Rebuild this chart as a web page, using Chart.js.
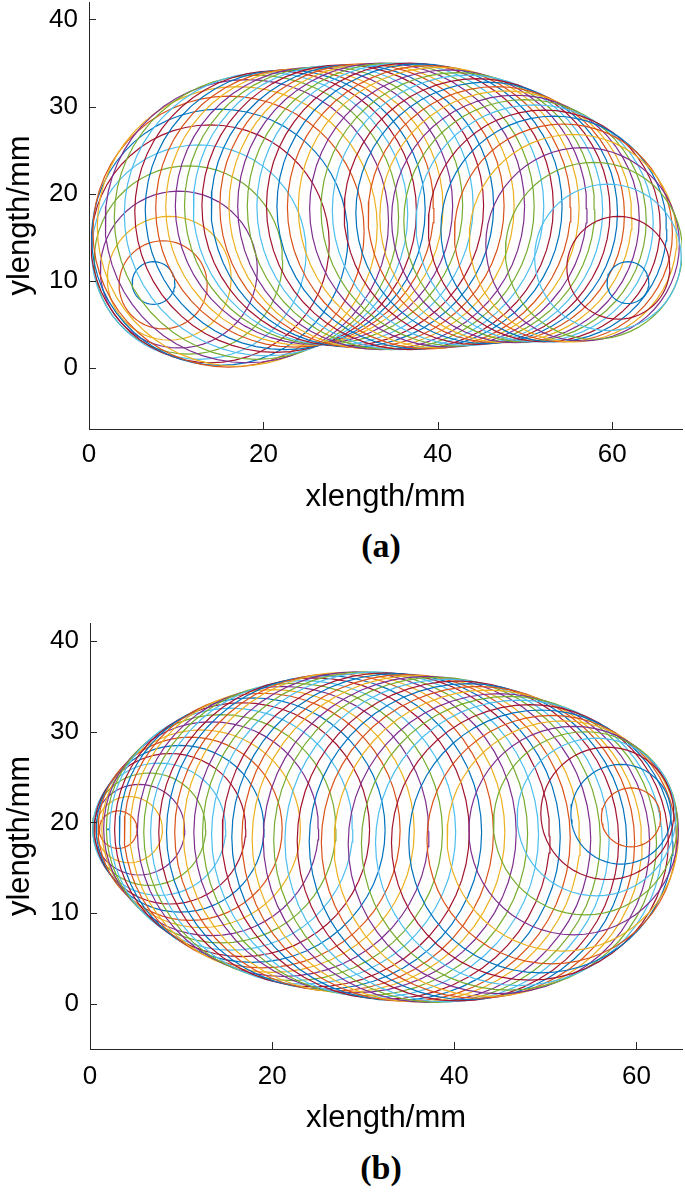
<!DOCTYPE html>
<html>
<head>
<meta charset="utf-8">
<script src="https://cdn.jsdelivr.net/npm/chart.js@4.4.0/dist/chart.umd.min.js"></script>
<style>
  body { margin: 0; background: #fff; width: 685px; height: 1194px; position: relative; overflow: hidden; }
  canvas { position: absolute; left: 0; }
  #chartA { top: 0; }
  #chartB { top: 600px; }
  .tag { position: absolute; left: 381px; transform: translateX(-50%); font: bold 34px "Liberation Serif", "DejaVu Serif", serif; color: #000; line-height: 38px; }
</style>
</head>
<body>
<canvas id="chartA" width="685" height="520"></canvas>
<div class="tag" style="top:527px">(a)</div>
<canvas id="chartB" width="685" height="545"></canvas>
<div class="tag" style="top:1149px">(b)</div>
<script>
// panel (a): circle centres and radii, in mm
const cxA = [7.4, 8.5, 9.2, 10.3, 11.4, 12.6, 13.9, 15.0, 16.0, 17.0,
    18.1, 19.2, 20.3, 21.4, 22.5, 23.6, 24.7, 25.8, 26.9, 28.0,
    29.1, 30.2, 31.3, 32.4, 33.5, 34.6, 35.7, 36.8, 37.9, 39.0,
    40.1, 41.2, 42.3, 43.4, 44.5, 45.6, 46.7, 47.8, 48.9, 50.0,
    51.1, 52.2, 53.3, 54.4, 55.5, 56.6, 57.9, 59.5, 60.7, 61.8];
const cyA = [9.75, 9.55, 10.3, 11.3, 12.4, 13.3, 14.25, 15.0, 15.65, 16.25,
    16.85, 17.3, 17.65, 17.95, 18.15, 18.35, 18.5, 18.6, 18.65, 18.65,
    18.65, 18.6, 18.6, 18.55, 18.55, 18.55, 18.55, 18.55, 18.55, 18.45,
    18.4, 18.3, 18.2, 18.1, 17.95, 17.8, 17.6, 17.35, 17.1, 16.9,
    16.6, 16.3, 15.95, 15.5, 14.9, 14.2, 13.45, 12.7, 11.5, 9.8];
const rA = [2.45, 5.05, 7.1, 9.0, 10.8, 12.3, 13.65, 14.7, 15.55, 16.05,
    16.25, 16.3, 16.25, 16.15, 16.05, 15.95, 15.9, 15.9, 15.95, 16.05,
    16.15, 16.2, 16.3, 16.35, 16.45, 16.45, 16.45, 16.45, 16.35, 16.25,
    16.1, 15.9, 15.7, 15.5, 15.25, 15.0, 14.7, 14.45, 14.2, 13.9,
    13.6, 13.3, 12.95, 12.5, 11.9, 11.1, 10.15, 8.4, 5.9, 2.4];

// panel (b)
const cxB = [2.0, 3.1, 4.3, 5.4, 6.5, 7.6, 8.8, 9.9, 11.0, 12.2,
    13.3, 14.4, 15.5, 16.7, 17.8, 18.9, 20.0, 21.2, 22.3, 23.4,
    24.6, 25.7, 26.8, 27.9, 29.1, 30.2, 31.3, 32.5, 33.6, 34.7,
    35.8, 37.0, 38.1, 39.2, 40.4, 41.5, 42.6, 43.7, 44.9, 46.0,
    47.1, 48.3, 49.5, 50.7, 51.9, 53.1, 54.4, 55.6, 56.8, 58.3, 59.4];
const cyB = [19.25, 19.2, 19.2, 19.2, 19.25, 19.25, 19.3, 19.3, 19.3, 19.3,
    19.3, 19.3, 19.25, 19.2, 19.15, 19.1, 19.05, 19.0, 18.95, 18.9,
    18.9, 18.9, 18.9, 18.9, 18.9, 18.75, 18.65, 18.5, 18.38, 18.28,
    18.2, 18.13, 18.08, 18.0, 17.95, 17.88, 17.8, 17.7, 17.65, 17.7,
    17.75, 17.8, 17.9, 18.1, 18.5, 19.1, 19.9, 20.6, 21.0, 20.9, 20.55];
const rB = [0.05, 2.07, 3.65, 5.0, 6.2, 7.3, 8.3, 9.2, 10.1, 10.9,
    11.8, 12.6, 13.35, 14.0, 14.6, 15.15, 15.6, 16.0, 16.4, 16.75,
    17.05, 17.3, 17.5, 17.65, 17.7, 17.85, 17.95, 18.0, 18.03, 18.03,
    18.0, 17.98, 17.93, 17.8, 17.65, 17.43, 17.2, 16.9, 16.55, 16.2,
    15.75, 15.2, 14.5, 13.7, 12.7, 11.5, 10.1, 8.7, 7.3, 5.5, 3.25];

// axis ticks
const xTicksA = [0, 20, 40, 60];
const xTicksB = [0, 20, 40, 60];
const yTicks = [0, 10, 20, 30, 40];

// matlab default colour order
const colorOrder = ['#0072BD', '#D95319', '#EDB120', '#7E2F8E', '#77AC30', '#4DBEEE', '#A2142F'];
const SEG = 60;
const FONT = '"Liberation Sans", Arial, Helvetica, sans-serif';
const AXIS = '#262626';

function circleSets(cx, cy, r) {
    return cx.map((x0, i) => {
        const pts = [];
        for (let k = 0; k <= SEG; k++) {
            const a = 2 * Math.PI * k / SEG;
            pts.push({ x: x0 + r[i] * Math.cos(a), y: cy[i] + r[i] * Math.sin(a) });
        }
        return {
            data: pts,
            showLine: true,
            borderColor: colorOrder[i % 7],
            borderWidth: 1.2,
            pointRadius: 0,
            fill: false,
            order: -i   // later circles on top, like plot(...) with hold on
        };
    });
}

// matlab style ticks pointing into the axes
const inwardTicks = {
    id: 'inwardTicks',
    afterDraw(chart) {
        const { ctx, chartArea, scales } = chart;
        ctx.save();
        ctx.strokeStyle = AXIS;
        ctx.lineWidth = 1;
        ctx.beginPath();
        scales.x.ticks.forEach(t => {
            const px = Math.round(scales.x.getPixelForValue(t.value)) + 0.5;
            ctx.moveTo(px, chartArea.bottom);
            ctx.lineTo(px, chartArea.bottom - 7);
        });
        scales.y.ticks.forEach(t => {
            const py = Math.round(scales.y.getPixelForValue(t.value)) + 0.5;
            ctx.moveTo(chartArea.left, py);
            ctx.lineTo(chartArea.left + 7, py);
        });
        ctx.stroke();
        ctx.restore();
    }
};

function makeChart(id, sets, cfg) {
    const ctx = document.getElementById(id).getContext('2d');
    return new Chart(ctx, {
        type: 'scatter',
        data: { datasets: sets },
        plugins: [inwardTicks],
        options: {
            responsive: false,
            animation: false,
            layout: { padding: { top: cfg.padTop, right: 3, left: 0, bottom: 0 } },
            plugins: { legend: { display: false }, tooltip: { enabled: false } },
            scales: {
                x: {
                    type: 'linear',
                    min: 0,
                    max: cfg.xMax,
                    afterBuildTicks: s => { s.ticks = cfg.xTicks.map(v => ({ value: v })); },
                    afterFit: s => { s.height = cfg.xHeight; s.paddingLeft = 0; s.paddingRight = 0; },
                    grid: { display: false, drawTicks: false },
                    border: { display: true, color: AXIS, width: 1 },
                    ticks: { padding: cfg.tickPad, color: '#000', maxRotation: 0, font: { size: 26, family: FONT } },
                    title: { display: true, text: 'xlength/mm', color: '#000', font: { size: 31, family: FONT }, padding: { top: 0, bottom: cfg.titlePad } }
                },
                y: {
                    type: 'linear',
                    min: cfg.yMin,
                    max: 42,
                    afterBuildTicks: s => { s.ticks = yTicks.map(v => ({ value: v })); },
                    afterFit: s => { s.width = cfg.yWidth; s.paddingTop = 0; s.paddingBottom = 0; },
                    grid: { display: false, drawTicks: false },
                    border: { display: true, color: AXIS, width: 1 },
                    ticks: { padding: 11, color: '#000', font: { size: 26, family: FONT } },
                    title: { display: true, text: 'ylength/mm', color: '#000', font: { size: 31, family: FONT }, padding: { top: 2, bottom: 0 } }
                }
            }
        }
    });
}

makeChart('chartA', circleSets(cxA, cyA, rA), {
    xMax: 68, yMin: -7, xTicks: xTicksA, xHeight: 91, padTop: 2, tickPad: 10, titlePad: 4, yWidth: 89
});
makeChart('chartB', circleSets(cxB, cyB, rB), {
    xMax: 65, yMin: -5, xTicks: xTicksB, xHeight: 96, padTop: 23, tickPad: 12, titlePad: 8, yWidth: 90
});
</script>
</body>
</html>
